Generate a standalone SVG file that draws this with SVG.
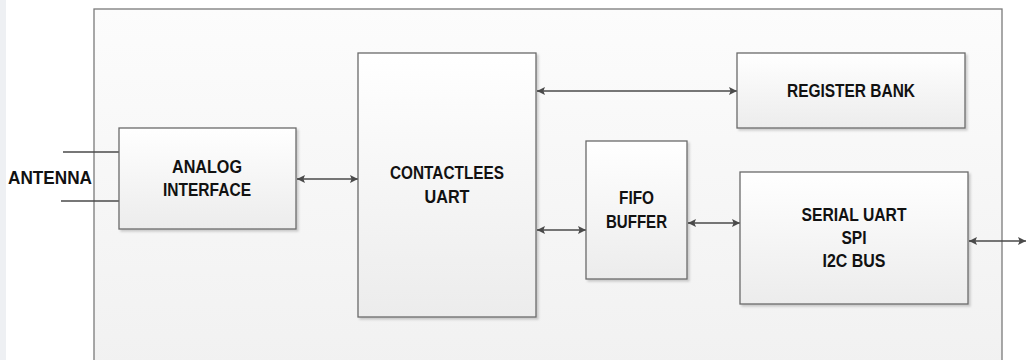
<svg xmlns="http://www.w3.org/2000/svg" width="1027" height="360" viewBox="0 0 1027 360">
<style>
.box{stroke:#6a6a6a;stroke-width:1.3;fill:url(#g)}
.lbl{font-family:"Liberation Sans",Arial,sans-serif;font-weight:bold;font-size:18px;fill:#111;text-anchor:middle}
.con{stroke:#4a4a4a;stroke-width:1.3;fill:none}
</style>
<defs>
<linearGradient id="g" x1="0" y1="0" x2="0" y2="1"><stop offset="0" stop-color="#ffffff"/><stop offset="1" stop-color="#ececec"/></linearGradient>
<linearGradient id="bg" x1="0" y1="0" x2="0" y2="1"><stop offset="0" stop-color="#fcfcfc"/><stop offset="1" stop-color="#f1f1f1"/></linearGradient>
<filter id="sh" x="-10%" y="-10%" width="130%" height="130%"><feDropShadow dx="2" dy="2" stdDeviation="1.2" flood-color="#000" flood-opacity="0.18"/></filter>
<marker id="ah" viewBox="0 0 10 10" refX="10" refY="5" markerWidth="10" markerHeight="8" markerUnits="userSpaceOnUse" orient="auto-start-reverse"><path d="M0,0 L10,5 L0,10 L2,5 Z" fill="#4a4a4a"/></marker>
</defs>
<rect x="0" y="0" width="1027" height="360" fill="#ffffff"/>
<rect x="0" y="0" width="6" height="360" fill="#eef0f3"/>
<g id="container"><rect x="94" y="9" width="908" height="360" fill="url(#bg)" stroke="#7a7a7a" stroke-width="1.3"/></g>
<g id="connectors">
<line class="con" x1="63" y1="152" x2="119" y2="152"/>
<line class="con" x1="61" y1="201" x2="119" y2="201"/>
<line class="con" x1="297" y1="179" x2="358" y2="179" marker-start="url(#ah)" marker-end="url(#ah)"/>
<line class="con" x1="537" y1="91" x2="737" y2="91" marker-start="url(#ah)" marker-end="url(#ah)"/>
<line class="con" x1="537" y1="230" x2="586" y2="230" marker-start="url(#ah)" marker-end="url(#ah)"/>
<line class="con" x1="688" y1="223" x2="740" y2="223" marker-start="url(#ah)" marker-end="url(#ah)"/>
<line class="con" x1="969" y1="241" x2="1026" y2="241" marker-start="url(#ah)" marker-end="url(#ah)"/>
</g>
<g id="antenna"><text class="lbl" x="50" y="184" textLength="84" lengthAdjust="spacingAndGlyphs">ANTENNA</text></g>
<g id="analog"><rect class="box" filter="url(#sh)" x="119" y="128" width="177" height="101"/>
<text class="lbl" x="207" y="173" textLength="70" lengthAdjust="spacingAndGlyphs">ANALOG</text>
<text class="lbl" x="207" y="196" textLength="88" lengthAdjust="spacingAndGlyphs">INTERFACE</text></g>
<g id="contactless"><rect class="box" filter="url(#sh)" x="358" y="53" width="178" height="264"/>
<text class="lbl" x="447" y="179" textLength="114" lengthAdjust="spacingAndGlyphs">CONTACTLEES</text>
<text class="lbl" x="447" y="203" textLength="45" lengthAdjust="spacingAndGlyphs">UART</text></g>
<g id="fifo"><rect class="box" filter="url(#sh)" x="586" y="141" width="101" height="138"/>
<text class="lbl" x="636.5" y="204" textLength="35" lengthAdjust="spacingAndGlyphs">FIFO</text>
<text class="lbl" x="636.5" y="228" textLength="61" lengthAdjust="spacingAndGlyphs">BUFFER</text></g>
<g id="register"><rect class="box" filter="url(#sh)" x="737" y="53" width="228" height="75"/>
<text class="lbl" x="851" y="97" textLength="128" lengthAdjust="spacingAndGlyphs">REGISTER BANK</text></g>
<g id="serial"><rect class="box" filter="url(#sh)" x="740" y="172" width="228" height="132"/>
<text class="lbl" x="854" y="221" textLength="105" lengthAdjust="spacingAndGlyphs">SERIAL UART</text>
<text class="lbl" x="854" y="244" textLength="25" lengthAdjust="spacingAndGlyphs">SPI</text>
<text class="lbl" x="854" y="267" textLength="63" lengthAdjust="spacingAndGlyphs">I2C BUS</text></g>
</svg>
